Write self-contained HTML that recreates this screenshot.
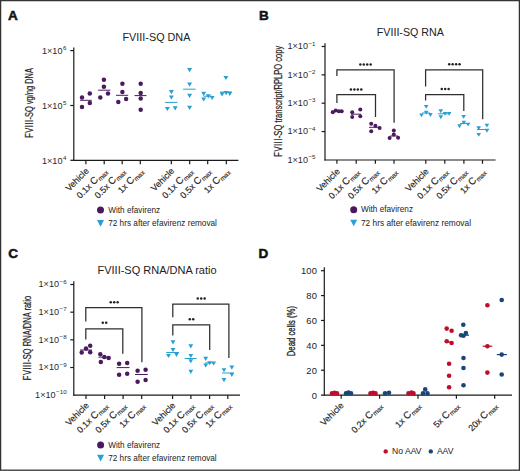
<!DOCTYPE html>
<html><head><meta charset="utf-8"><style>
html,body{margin:0;padding:0;background:#fff;}
#wrap{position:relative;width:520px;height:471px;overflow:hidden;background:#fff;}
svg{position:absolute;left:0;top:0;font-family:"Liberation Sans", sans-serif;}
</style></head><body><div id="wrap">
<svg width="520" height="471" viewBox="0 0 520 471">
<rect x="0" y="0" width="520" height="471" fill="#fff"/>
<text x="8.1" y="19.5" font-size="13.5" text-anchor="start" fill="#111" font-weight="bold" stroke="#111" stroke-width="0.5">A</text>
<text x="122.5" y="40.9" font-size="10.5" fill="#222" textLength="67.9" lengthAdjust="spacingAndGlyphs">FVIII-SQ DNA</text>
<text x="33.5" y="137.7" font-size="10.3" fill="#222" stroke="#222" stroke-width="0.2" textLength="69.6" lengthAdjust="spacingAndGlyphs" transform="rotate(-90 33.5 137.7)"><tspan letter-spacing="0.7">FVIII</tspan>-SQ vg/ng DNA</text>
<line x1="73.8" y1="47.5" x2="73.8" y2="160.9" stroke="#1a1a1a" stroke-width="1.2"/>
<line x1="73.2" y1="160.3" x2="238.4" y2="160.3" stroke="#1a1a1a" stroke-width="1.2"/>
<line x1="70.3" y1="50.6" x2="73.8" y2="50.6" stroke="#1a1a1a" stroke-width="1.2"/>
<text x="66.4" y="53.800000000000004" font-size="9.1" text-anchor="end" fill="#2a2a2a">1×10<tspan font-size="6.2" dx="0.5" dy="-3.7">6</tspan></text>
<line x1="70.3" y1="105.5" x2="73.8" y2="105.5" stroke="#1a1a1a" stroke-width="1.2"/>
<text x="66.4" y="108.7" font-size="9.1" text-anchor="end" fill="#2a2a2a">1×10<tspan font-size="6.2" dx="0.5" dy="-3.7">5</tspan></text>
<line x1="70.3" y1="160.3" x2="73.8" y2="160.3" stroke="#1a1a1a" stroke-width="1.2"/>
<text x="66.4" y="163.5" font-size="9.1" text-anchor="end" fill="#2a2a2a">1×10<tspan font-size="6.2" dx="0.5" dy="-3.7">4</tspan></text>
<line x1="85.9" y1="160.3" x2="85.9" y2="164.2" stroke="#1a1a1a" stroke-width="1.2"/>
<text x="89.4" y="171.5" font-size="8.9" text-anchor="end" fill="#222" stroke="#222" stroke-width="0.15" transform="rotate(-45 89.4 171.5)">Vehicle</text>
<line x1="104.2" y1="160.3" x2="104.2" y2="164.2" stroke="#1a1a1a" stroke-width="1.2"/>
<text x="107.7" y="171.5" font-size="8.9" text-anchor="end" fill="#222" stroke="#222" stroke-width="0.15" transform="rotate(-45 107.7 171.5)">0.1x <tspan font-size="9.8">C</tspan><tspan font-size="6.5" dx="0.3" dy="2.0">max</tspan></text>
<line x1="122.2" y1="160.3" x2="122.2" y2="164.2" stroke="#1a1a1a" stroke-width="1.2"/>
<text x="125.7" y="171.5" font-size="8.9" text-anchor="end" fill="#222" stroke="#222" stroke-width="0.15" transform="rotate(-45 125.7 171.5)">0.5x <tspan font-size="9.8">C</tspan><tspan font-size="6.5" dx="0.3" dy="2.0">max</tspan></text>
<line x1="140.3" y1="160.3" x2="140.3" y2="164.2" stroke="#1a1a1a" stroke-width="1.2"/>
<text x="143.8" y="171.5" font-size="8.9" text-anchor="end" fill="#222" stroke="#222" stroke-width="0.15" transform="rotate(-45 143.8 171.5)">1x <tspan font-size="9.8">C</tspan><tspan font-size="6.5" dx="0.3" dy="2.0">max</tspan></text>
<line x1="171.3" y1="160.3" x2="171.3" y2="164.2" stroke="#1a1a1a" stroke-width="1.2"/>
<text x="174.8" y="171.5" font-size="8.9" text-anchor="end" fill="#222" stroke="#222" stroke-width="0.15" transform="rotate(-45 174.8 171.5)">Vehicle</text>
<line x1="189.7" y1="160.3" x2="189.7" y2="164.2" stroke="#1a1a1a" stroke-width="1.2"/>
<text x="193.2" y="171.5" font-size="8.9" text-anchor="end" fill="#222" stroke="#222" stroke-width="0.15" transform="rotate(-45 193.2 171.5)">0.1x <tspan font-size="9.8">C</tspan><tspan font-size="6.5" dx="0.3" dy="2.0">max</tspan></text>
<line x1="207.7" y1="160.3" x2="207.7" y2="164.2" stroke="#1a1a1a" stroke-width="1.2"/>
<text x="211.2" y="171.5" font-size="8.9" text-anchor="end" fill="#222" stroke="#222" stroke-width="0.15" transform="rotate(-45 211.2 171.5)">0.5x <tspan font-size="9.8">C</tspan><tspan font-size="6.5" dx="0.3" dy="2.0">max</tspan></text>
<line x1="226.3" y1="160.3" x2="226.3" y2="164.2" stroke="#1a1a1a" stroke-width="1.2"/>
<text x="229.8" y="171.5" font-size="8.9" text-anchor="end" fill="#222" stroke="#222" stroke-width="0.15" transform="rotate(-45 229.8 171.5)">1x <tspan font-size="9.8">C</tspan><tspan font-size="6.5" dx="0.3" dy="2.0">max</tspan></text>
<circle cx="82.0" cy="97.6" r="2.25" fill="#4b1a5e"/>
<circle cx="89.8" cy="93.6" r="2.25" fill="#4b1a5e"/>
<circle cx="82.0" cy="107.0" r="2.25" fill="#4b1a5e"/>
<circle cx="89.8" cy="103.0" r="2.25" fill="#4b1a5e"/>
<line x1="80.1" y1="100.3" x2="91.8" y2="100.3" stroke="#4b1a5e" stroke-width="1.0"/>
<circle cx="103.9" cy="79.7" r="2.25" fill="#4b1a5e"/>
<circle cx="103.9" cy="86.8" r="2.25" fill="#4b1a5e"/>
<circle cx="100.3" cy="97.6" r="2.25" fill="#4b1a5e"/>
<circle cx="108.0" cy="93.6" r="2.25" fill="#4b1a5e"/>
<line x1="98.1" y1="90.2" x2="110.3" y2="90.2" stroke="#4b1a5e" stroke-width="1.0"/>
<circle cx="122.4" cy="83.7" r="2.25" fill="#4b1a5e"/>
<circle cx="122.4" cy="91.9" r="2.25" fill="#4b1a5e"/>
<circle cx="118.3" cy="102.0" r="2.25" fill="#4b1a5e"/>
<circle cx="126.1" cy="98.9" r="2.25" fill="#4b1a5e"/>
<line x1="116.0" y1="95.3" x2="128.2" y2="95.3" stroke="#4b1a5e" stroke-width="1.0"/>
<circle cx="140.7" cy="83.7" r="2.25" fill="#4b1a5e"/>
<circle cx="140.7" cy="93.1" r="2.25" fill="#4b1a5e"/>
<circle cx="140.7" cy="98.5" r="2.25" fill="#4b1a5e"/>
<circle cx="140.7" cy="109.7" r="2.25" fill="#4b1a5e"/>
<line x1="134.5" y1="95.6" x2="146.5" y2="95.6" stroke="#4b1a5e" stroke-width="1.0"/>
<line x1="165.1" y1="102.4" x2="177.5" y2="102.4" stroke="#2a9fd2" stroke-width="1.0"/>
<path d="M168.90,90.00L173.90,90.00L171.40,94.20Z" fill="#2a9fd2"/>
<path d="M168.90,95.40L173.90,95.40L171.40,99.60Z" fill="#2a9fd2"/>
<path d="M164.90,106.90L169.90,106.90L167.40,111.10Z" fill="#2a9fd2"/>
<path d="M172.70,106.20L177.70,106.20L175.20,110.40Z" fill="#2a9fd2"/>
<line x1="183.1" y1="89.2" x2="195.7" y2="89.2" stroke="#2a9fd2" stroke-width="1.0"/>
<path d="M187.10,68.10L192.10,68.10L189.60,72.30Z" fill="#2a9fd2"/>
<path d="M187.10,82.60L192.10,82.60L189.60,86.80Z" fill="#2a9fd2"/>
<path d="M187.10,93.70L192.10,93.70L189.60,97.90Z" fill="#2a9fd2"/>
<path d="M187.10,105.80L192.10,105.80L189.60,110.00Z" fill="#2a9fd2"/>
<line x1="203.5" y1="96.2" x2="212.5" y2="96.2" stroke="#2a9fd2" stroke-width="1.0"/>
<path d="M201.20,91.70L206.20,91.70L203.70,95.90Z" fill="#2a9fd2"/>
<path d="M201.20,97.40L206.20,97.40L203.70,101.60Z" fill="#2a9fd2"/>
<path d="M205.80,94.30L210.80,94.30L208.30,98.50Z" fill="#2a9fd2"/>
<path d="M209.60,95.90L214.60,95.90L212.10,100.10Z" fill="#2a9fd2"/>
<line x1="220.0" y1="92.1" x2="232.0" y2="92.1" stroke="#2a9fd2" stroke-width="1.0"/>
<path d="M223.40,75.90L228.40,75.90L225.90,80.10Z" fill="#2a9fd2"/>
<path d="M219.60,92.20L224.60,92.20L222.10,96.40Z" fill="#2a9fd2"/>
<path d="M223.60,91.10L228.60,91.10L226.10,95.30Z" fill="#2a9fd2"/>
<path d="M227.30,91.70L232.30,91.70L229.80,95.90Z" fill="#2a9fd2"/>
<circle cx="100.5" cy="210.1" r="3.5" fill="#4b1a5e"/>
<path d="M97.00,220.10L104.00,220.10L100.50,226.70Z" fill="#2a9fd2"/>
<text x="108.2" y="212.9" font-size="8.6" fill="#222" textLength="52" lengthAdjust="spacingAndGlyphs">With efavirenz</text>
<text x="108.2" y="226.0" font-size="8.6" fill="#222" textLength="108.7" lengthAdjust="spacingAndGlyphs">72 hrs after efavirenz removal</text>
<text x="259" y="19.6" font-size="13.5" text-anchor="start" fill="#111" font-weight="bold" stroke="#111" stroke-width="0.5">B</text>
<text x="376.8" y="36.4" font-size="10.5" fill="#222" textLength="67.1" lengthAdjust="spacingAndGlyphs">FVIII-SQ RNA</text>
<text x="281.6" y="156.7" font-size="10.3" fill="#222" stroke="#222" stroke-width="0.2" textLength="111.0" lengthAdjust="spacingAndGlyphs" transform="rotate(-90 281.6 156.7)"><tspan letter-spacing="0.7">FVIII</tspan>-SQ transcript/RPLPO copy</text>
<line x1="325.0" y1="43.2" x2="325.0" y2="160.6" stroke="#1a1a1a" stroke-width="1.2"/>
<line x1="324.4" y1="160.0" x2="495.6" y2="160.0" stroke="#1a1a1a" stroke-width="1.2"/>
<line x1="321.6" y1="46.5" x2="325.0" y2="46.5" stroke="#1a1a1a" stroke-width="1.2"/>
<text x="315.5" y="49.3" font-size="9.1" text-anchor="end" fill="#2a2a2a">1×10<tspan font-size="6.2" dx="0.5" dy="-3.7">−1</tspan></text>
<line x1="321.6" y1="74.85" x2="325.0" y2="74.85" stroke="#1a1a1a" stroke-width="1.2"/>
<text x="315.5" y="77.64999999999999" font-size="9.1" text-anchor="end" fill="#2a2a2a">1×10<tspan font-size="6.2" dx="0.5" dy="-3.7">−2</tspan></text>
<line x1="321.6" y1="103.2" x2="325.0" y2="103.2" stroke="#1a1a1a" stroke-width="1.2"/>
<text x="315.5" y="106.0" font-size="9.1" text-anchor="end" fill="#2a2a2a">1×10<tspan font-size="6.2" dx="0.5" dy="-3.7">−3</tspan></text>
<line x1="321.6" y1="131.55" x2="325.0" y2="131.55" stroke="#1a1a1a" stroke-width="1.2"/>
<text x="315.5" y="134.35000000000002" font-size="9.1" text-anchor="end" fill="#2a2a2a">1×10<tspan font-size="6.2" dx="0.5" dy="-3.7">−4</tspan></text>
<text x="315.5" y="162.70000000000002" font-size="9.1" text-anchor="end" fill="#2a2a2a">1×10<tspan font-size="6.2" dx="0.5" dy="-3.7">−5</tspan></text>
<line x1="336.9" y1="160.0" x2="336.9" y2="163.8" stroke="#1a1a1a" stroke-width="1.2"/>
<text x="340.4" y="172.0" font-size="8.9" text-anchor="end" fill="#222" stroke="#222" stroke-width="0.15" transform="rotate(-45 340.4 172.0)">Vehicle</text>
<line x1="356.2" y1="160.0" x2="356.2" y2="163.8" stroke="#1a1a1a" stroke-width="1.2"/>
<text x="359.7" y="172.0" font-size="8.9" text-anchor="end" fill="#222" stroke="#222" stroke-width="0.15" transform="rotate(-45 359.7 172.0)">0.1x <tspan font-size="9.8">C</tspan><tspan font-size="6.5" dx="0.3" dy="2.0">max</tspan></text>
<line x1="375.4" y1="160.0" x2="375.4" y2="163.8" stroke="#1a1a1a" stroke-width="1.2"/>
<text x="378.9" y="172.0" font-size="8.9" text-anchor="end" fill="#222" stroke="#222" stroke-width="0.15" transform="rotate(-45 378.9 172.0)">0.5x <tspan font-size="9.8">C</tspan><tspan font-size="6.5" dx="0.3" dy="2.0">max</tspan></text>
<line x1="394.0" y1="160.0" x2="394.0" y2="163.8" stroke="#1a1a1a" stroke-width="1.2"/>
<text x="397.5" y="172.0" font-size="8.9" text-anchor="end" fill="#222" stroke="#222" stroke-width="0.15" transform="rotate(-45 397.5 172.0)">1x <tspan font-size="9.8">C</tspan><tspan font-size="6.5" dx="0.3" dy="2.0">max</tspan></text>
<line x1="425.8" y1="160.0" x2="425.8" y2="163.8" stroke="#1a1a1a" stroke-width="1.2"/>
<text x="429.3" y="172.0" font-size="8.9" text-anchor="end" fill="#222" stroke="#222" stroke-width="0.15" transform="rotate(-45 429.3 172.0)">Vehicle</text>
<line x1="444.8" y1="160.0" x2="444.8" y2="163.8" stroke="#1a1a1a" stroke-width="1.2"/>
<text x="448.3" y="172.0" font-size="8.9" text-anchor="end" fill="#222" stroke="#222" stroke-width="0.15" transform="rotate(-45 448.3 172.0)">0.1x <tspan font-size="9.8">C</tspan><tspan font-size="6.5" dx="0.3" dy="2.0">max</tspan></text>
<line x1="463.9" y1="160.0" x2="463.9" y2="163.8" stroke="#1a1a1a" stroke-width="1.2"/>
<text x="467.4" y="172.0" font-size="8.9" text-anchor="end" fill="#222" stroke="#222" stroke-width="0.15" transform="rotate(-45 467.4 172.0)">0.5x <tspan font-size="9.8">C</tspan><tspan font-size="6.5" dx="0.3" dy="2.0">max</tspan></text>
<line x1="482.5" y1="160.0" x2="482.5" y2="163.8" stroke="#1a1a1a" stroke-width="1.2"/>
<text x="486.0" y="172.0" font-size="8.9" text-anchor="end" fill="#222" stroke="#222" stroke-width="0.15" transform="rotate(-45 486.0 172.0)">1x <tspan font-size="9.8">C</tspan><tspan font-size="6.5" dx="0.3" dy="2.0">max</tspan></text>
<path d="M336.9,76.0V69.8H394.1V122.7" fill="none" stroke="#2e2e2e" stroke-width="1.25"/>
<circle cx="360.32" cy="64.5" r="1.25" fill="#222"/>
<circle cx="363.77" cy="64.5" r="1.25" fill="#222"/>
<circle cx="367.22" cy="64.5" r="1.25" fill="#222"/>
<circle cx="370.68" cy="64.5" r="1.25" fill="#222"/>
<path d="M336.9,102.9V94.5H375.5V117.0" fill="none" stroke="#2e2e2e" stroke-width="1.25"/>
<circle cx="350.93" cy="89.4" r="1.25" fill="#222"/>
<circle cx="354.38" cy="89.4" r="1.25" fill="#222"/>
<circle cx="357.82" cy="89.4" r="1.25" fill="#222"/>
<circle cx="361.28" cy="89.4" r="1.25" fill="#222"/>
<path d="M425.6,86.5V69.8H482.7V119.2" fill="none" stroke="#2e2e2e" stroke-width="1.25"/>
<circle cx="449.22" cy="64.2" r="1.25" fill="#222"/>
<circle cx="452.67" cy="64.2" r="1.25" fill="#222"/>
<circle cx="456.12" cy="64.2" r="1.25" fill="#222"/>
<circle cx="459.57" cy="64.2" r="1.25" fill="#222"/>
<path d="M425.6,100.5V94.5H463.8V111.0" fill="none" stroke="#2e2e2e" stroke-width="1.25"/>
<circle cx="441.75" cy="89.0" r="1.25" fill="#222"/>
<circle cx="445.20" cy="89.0" r="1.25" fill="#222"/>
<circle cx="448.65" cy="89.0" r="1.25" fill="#222"/>
<line x1="331" y1="111.2" x2="343" y2="111.2" stroke="#4b1a5e" stroke-width="1.0"/>
<circle cx="332.8" cy="112.3" r="2.0" fill="#4b1a5e"/>
<circle cx="335.7" cy="110.4" r="2.0" fill="#4b1a5e"/>
<circle cx="338.8" cy="111.2" r="2.0" fill="#4b1a5e"/>
<circle cx="341.7" cy="111.2" r="2.0" fill="#4b1a5e"/>
<line x1="351" y1="114.2" x2="361" y2="114.2" stroke="#4b1a5e" stroke-width="1.0"/>
<circle cx="352.2" cy="112.3" r="2.0" fill="#4b1a5e"/>
<circle cx="352.2" cy="117.1" r="2.0" fill="#4b1a5e"/>
<circle cx="360.3" cy="109.6" r="2.0" fill="#4b1a5e"/>
<circle cx="360.3" cy="116.2" r="2.0" fill="#4b1a5e"/>
<line x1="369" y1="127.3" x2="381" y2="127.3" stroke="#4b1a5e" stroke-width="1.0"/>
<circle cx="371.2" cy="123.7" r="2.0" fill="#4b1a5e"/>
<circle cx="375.4" cy="125.8" r="2.0" fill="#4b1a5e"/>
<circle cx="379.6" cy="128.1" r="2.0" fill="#4b1a5e"/>
<circle cx="371.2" cy="131.2" r="2.0" fill="#4b1a5e"/>
<line x1="390" y1="136.0" x2="398" y2="136.0" stroke="#4b1a5e" stroke-width="1.0"/>
<circle cx="393.8" cy="130.4" r="2.0" fill="#4b1a5e"/>
<circle cx="393.8" cy="134.6" r="2.0" fill="#4b1a5e"/>
<circle cx="389.6" cy="138.1" r="2.0" fill="#4b1a5e"/>
<circle cx="398.1" cy="137.7" r="2.0" fill="#4b1a5e"/>
<line x1="422" y1="113.0" x2="430" y2="113.0" stroke="#2a9fd2" stroke-width="1.0"/>
<path d="M423.90,104.95L428.50,104.95L426.20,108.85Z" fill="#2a9fd2"/>
<path d="M423.90,110.75L428.50,110.75L426.20,114.65Z" fill="#2a9fd2"/>
<path d="M419.20,113.45L423.80,113.45L421.50,117.35Z" fill="#2a9fd2"/>
<path d="M428.10,113.05L432.70,113.05L430.40,116.95Z" fill="#2a9fd2"/>
<line x1="438" y1="113.8" x2="449" y2="113.8" stroke="#2a9fd2" stroke-width="1.0"/>
<path d="M438.50,109.25L443.10,109.25L440.80,113.15Z" fill="#2a9fd2"/>
<path d="M438.50,115.35L443.10,115.35L440.80,119.25Z" fill="#2a9fd2"/>
<path d="M442.70,111.95L447.30,111.95L445.00,115.85Z" fill="#2a9fd2"/>
<path d="M446.90,111.95L451.50,111.95L449.20,115.85Z" fill="#2a9fd2"/>
<line x1="460" y1="123.5" x2="468" y2="123.5" stroke="#2a9fd2" stroke-width="1.0"/>
<path d="M461.30,114.95L465.90,114.95L463.60,118.85Z" fill="#2a9fd2"/>
<path d="M461.50,120.75L466.10,120.75L463.80,124.65Z" fill="#2a9fd2"/>
<path d="M457.30,124.25L461.90,124.25L459.60,128.15Z" fill="#2a9fd2"/>
<path d="M465.80,122.65L470.40,122.65L468.10,126.55Z" fill="#2a9fd2"/>
<line x1="477" y1="129.5" x2="489" y2="129.5" stroke="#2a9fd2" stroke-width="1.0"/>
<path d="M476.40,126.25L481.00,126.25L478.70,130.15Z" fill="#2a9fd2"/>
<path d="M476.40,132.95L481.00,132.95L478.70,136.85Z" fill="#2a9fd2"/>
<path d="M484.60,123.65L489.20,123.65L486.90,127.55Z" fill="#2a9fd2"/>
<path d="M484.60,128.85L489.20,128.85L486.90,132.75Z" fill="#2a9fd2"/>
<circle cx="353.7" cy="209.7" r="3.5" fill="#4b1a5e"/>
<path d="M350.20,219.70L357.20,219.70L353.70,226.30Z" fill="#2a9fd2"/>
<text x="361.0" y="212.1" font-size="8.6" fill="#222" textLength="52" lengthAdjust="spacingAndGlyphs">With efavirenz</text>
<text x="361.0" y="225.8" font-size="8.6" fill="#222" textLength="110.0" lengthAdjust="spacingAndGlyphs">72 hrs after efavirenz removal</text>
<text x="8.2" y="258.2" font-size="13.5" text-anchor="start" fill="#111" font-weight="bold" stroke="#111" stroke-width="0.5">C</text>
<text x="97.5" y="274.2" font-size="10.5" fill="#222" textLength="119.1" lengthAdjust="spacingAndGlyphs">FVIII-SQ RNA/DNA ratio</text>
<text x="30.9" y="380.2" font-size="10.3" fill="#222" stroke="#222" stroke-width="0.2" textLength="84.3" lengthAdjust="spacingAndGlyphs" transform="rotate(-90 30.9 380.2)"><tspan letter-spacing="0.7">FVIII</tspan>-SQ RNA/DNA ratio</text>
<line x1="73.8" y1="281.3" x2="73.8" y2="395.7" stroke="#1a1a1a" stroke-width="1.2"/>
<line x1="73.2" y1="395.1" x2="240.0" y2="395.1" stroke="#1a1a1a" stroke-width="1.2"/>
<line x1="70.3" y1="284.5" x2="73.8" y2="284.5" stroke="#1a1a1a" stroke-width="1.2"/>
<text x="66.6" y="287.4" font-size="9.1" text-anchor="end" fill="#2a2a2a">1×10<tspan font-size="6.2" dx="0.5" dy="-3.7">−6</tspan></text>
<line x1="70.3" y1="312.17" x2="73.8" y2="312.17" stroke="#1a1a1a" stroke-width="1.2"/>
<text x="66.6" y="315.07" font-size="9.1" text-anchor="end" fill="#2a2a2a">1×10<tspan font-size="6.2" dx="0.5" dy="-3.7">−7</tspan></text>
<line x1="70.3" y1="339.84000000000003" x2="73.8" y2="339.84000000000003" stroke="#1a1a1a" stroke-width="1.2"/>
<text x="66.6" y="342.74" font-size="9.1" text-anchor="end" fill="#2a2a2a">1×10<tspan font-size="6.2" dx="0.5" dy="-3.7">−8</tspan></text>
<line x1="70.3" y1="367.51" x2="73.8" y2="367.51" stroke="#1a1a1a" stroke-width="1.2"/>
<text x="66.6" y="370.40999999999997" font-size="9.1" text-anchor="end" fill="#2a2a2a">1×10<tspan font-size="6.2" dx="0.5" dy="-3.7">−9</tspan></text>
<text x="66.6" y="398.08" font-size="9.1" text-anchor="end" fill="#2a2a2a">1×10<tspan font-size="6.2" dx="0.5" dy="-3.7">−10</tspan></text>
<line x1="86.0" y1="395.1" x2="86.0" y2="398.9" stroke="#1a1a1a" stroke-width="1.2"/>
<text x="89.5" y="406.0" font-size="8.9" text-anchor="end" fill="#222" stroke="#222" stroke-width="0.15" transform="rotate(-45 89.5 406.0)">Vehicle</text>
<line x1="104.6" y1="395.1" x2="104.6" y2="398.9" stroke="#1a1a1a" stroke-width="1.2"/>
<text x="108.1" y="406.0" font-size="8.9" text-anchor="end" fill="#222" stroke="#222" stroke-width="0.15" transform="rotate(-45 108.1 406.0)">0.1x <tspan font-size="9.8">C</tspan><tspan font-size="6.5" dx="0.3" dy="2.0">max</tspan></text>
<line x1="123.1" y1="395.1" x2="123.1" y2="398.9" stroke="#1a1a1a" stroke-width="1.2"/>
<text x="126.6" y="406.0" font-size="8.9" text-anchor="end" fill="#222" stroke="#222" stroke-width="0.15" transform="rotate(-45 126.6 406.0)">0.5x <tspan font-size="9.8">C</tspan><tspan font-size="6.5" dx="0.3" dy="2.0">max</tspan></text>
<line x1="141.7" y1="395.1" x2="141.7" y2="398.9" stroke="#1a1a1a" stroke-width="1.2"/>
<text x="145.2" y="406.0" font-size="8.9" text-anchor="end" fill="#222" stroke="#222" stroke-width="0.15" transform="rotate(-45 145.2 406.0)">1x <tspan font-size="9.8">C</tspan><tspan font-size="6.5" dx="0.3" dy="2.0">max</tspan></text>
<line x1="172.6" y1="395.1" x2="172.6" y2="398.9" stroke="#1a1a1a" stroke-width="1.2"/>
<text x="176.1" y="406.0" font-size="8.9" text-anchor="end" fill="#222" stroke="#222" stroke-width="0.15" transform="rotate(-45 176.1 406.0)">Vehicle</text>
<line x1="190.9" y1="395.1" x2="190.9" y2="398.9" stroke="#1a1a1a" stroke-width="1.2"/>
<text x="194.4" y="406.0" font-size="8.9" text-anchor="end" fill="#222" stroke="#222" stroke-width="0.15" transform="rotate(-45 194.4 406.0)">0.1x <tspan font-size="9.8">C</tspan><tspan font-size="6.5" dx="0.3" dy="2.0">max</tspan></text>
<line x1="209.6" y1="395.1" x2="209.6" y2="398.9" stroke="#1a1a1a" stroke-width="1.2"/>
<text x="213.1" y="406.0" font-size="8.9" text-anchor="end" fill="#222" stroke="#222" stroke-width="0.15" transform="rotate(-45 213.1 406.0)">0.5x <tspan font-size="9.8">C</tspan><tspan font-size="6.5" dx="0.3" dy="2.0">max</tspan></text>
<line x1="227.8" y1="395.1" x2="227.8" y2="398.9" stroke="#1a1a1a" stroke-width="1.2"/>
<text x="231.3" y="406.0" font-size="8.9" text-anchor="end" fill="#222" stroke="#222" stroke-width="0.15" transform="rotate(-45 231.3 406.0)">1x <tspan font-size="9.8">C</tspan><tspan font-size="6.5" dx="0.3" dy="2.0">max</tspan></text>
<path d="M85.8,321.5V307.5H141.9V362.3" fill="none" stroke="#2e2e2e" stroke-width="1.25"/>
<circle cx="110.75" cy="302.3" r="1.25" fill="#222"/>
<circle cx="114.20" cy="302.3" r="1.25" fill="#222"/>
<circle cx="117.65" cy="302.3" r="1.25" fill="#222"/>
<path d="M85.8,339.5V328.8H122.8V353.8" fill="none" stroke="#2e2e2e" stroke-width="1.25"/>
<circle cx="102.78" cy="322.8" r="1.25" fill="#222"/>
<circle cx="106.23" cy="322.8" r="1.25" fill="#222"/>
<path d="M172.8,317.3V304.1H228.9V358.0" fill="none" stroke="#2e2e2e" stroke-width="1.25"/>
<circle cx="197.75" cy="298.4" r="1.25" fill="#222"/>
<circle cx="201.20" cy="298.4" r="1.25" fill="#222"/>
<circle cx="204.65" cy="298.4" r="1.25" fill="#222"/>
<path d="M172.8,335.5V324.8H209.7V350.1" fill="none" stroke="#2e2e2e" stroke-width="1.25"/>
<circle cx="189.78" cy="319.2" r="1.25" fill="#222"/>
<circle cx="193.22" cy="319.2" r="1.25" fill="#222"/>
<line x1="80" y1="350.0" x2="92" y2="350.0" stroke="#4b1a5e" stroke-width="1.0"/>
<circle cx="81.7" cy="352.5" r="2.25" fill="#4b1a5e"/>
<circle cx="86.0" cy="348.5" r="2.25" fill="#4b1a5e"/>
<circle cx="90.2" cy="345.8" r="2.25" fill="#4b1a5e"/>
<circle cx="90.2" cy="352.2" r="2.25" fill="#4b1a5e"/>
<line x1="98.5" y1="357.2" x2="110.5" y2="357.2" stroke="#4b1a5e" stroke-width="1.0"/>
<circle cx="100.3" cy="354.2" r="2.25" fill="#4b1a5e"/>
<circle cx="104.3" cy="356.9" r="2.25" fill="#4b1a5e"/>
<circle cx="108.6" cy="358.1" r="2.25" fill="#4b1a5e"/>
<circle cx="100.8" cy="361.9" r="2.25" fill="#4b1a5e"/>
<line x1="116.7" y1="367.6" x2="129.5" y2="367.6" stroke="#4b1a5e" stroke-width="1.0"/>
<circle cx="119.1" cy="363.7" r="2.25" fill="#4b1a5e"/>
<circle cx="127.2" cy="363.0" r="2.25" fill="#4b1a5e"/>
<circle cx="119.1" cy="374.7" r="2.25" fill="#4b1a5e"/>
<circle cx="127.2" cy="373.8" r="2.25" fill="#4b1a5e"/>
<line x1="135.0" y1="374.5" x2="147.8" y2="374.5" stroke="#4b1a5e" stroke-width="1.0"/>
<circle cx="137.6" cy="370.8" r="2.25" fill="#4b1a5e"/>
<circle cx="145.6" cy="369.7" r="2.25" fill="#4b1a5e"/>
<circle cx="137.6" cy="381.8" r="2.25" fill="#4b1a5e"/>
<circle cx="145.6" cy="379.9" r="2.25" fill="#4b1a5e"/>
<line x1="166.2" y1="352.5" x2="178.9" y2="352.5" stroke="#2a9fd2" stroke-width="1.0"/>
<path d="M170.60,340.35L175.40,340.35L173.00,344.45Z" fill="#2a9fd2"/>
<path d="M170.60,348.05L175.40,348.05L173.00,352.15Z" fill="#2a9fd2"/>
<path d="M166.10,353.95L170.90,353.95L168.50,358.05Z" fill="#2a9fd2"/>
<path d="M174.10,352.85L178.90,352.85L176.50,356.95Z" fill="#2a9fd2"/>
<line x1="184.6" y1="358.5" x2="196.6" y2="358.5" stroke="#2a9fd2" stroke-width="1.0"/>
<path d="M188.40,344.35L193.20,344.35L190.80,348.45Z" fill="#2a9fd2"/>
<path d="M188.40,353.95L193.20,353.95L190.80,358.05Z" fill="#2a9fd2"/>
<path d="M188.40,359.25L193.20,359.25L190.80,363.35Z" fill="#2a9fd2"/>
<path d="M188.40,369.85L193.20,369.85L190.80,373.95Z" fill="#2a9fd2"/>
<line x1="205" y1="362.9" x2="213" y2="362.9" stroke="#2a9fd2" stroke-width="1.0"/>
<path d="M203.30,356.85L208.10,356.85L205.70,360.95Z" fill="#2a9fd2"/>
<path d="M203.30,363.45L208.10,363.45L205.70,367.55Z" fill="#2a9fd2"/>
<path d="M207.20,361.15L212.00,361.15L209.60,365.25Z" fill="#2a9fd2"/>
<path d="M211.30,361.45L216.10,361.45L213.70,365.55Z" fill="#2a9fd2"/>
<line x1="222" y1="373.0" x2="234" y2="373.0" stroke="#2a9fd2" stroke-width="1.0"/>
<path d="M229.40,365.55L234.20,365.55L231.80,369.65Z" fill="#2a9fd2"/>
<path d="M221.60,368.15L226.40,368.15L224.00,372.25Z" fill="#2a9fd2"/>
<path d="M229.40,372.85L234.20,372.85L231.80,376.95Z" fill="#2a9fd2"/>
<path d="M221.60,378.05L226.40,378.05L224.00,382.15Z" fill="#2a9fd2"/>
<circle cx="100.6" cy="445.0" r="3.5" fill="#4b1a5e"/>
<path d="M97.10,454.80L104.10,454.80L100.60,461.40Z" fill="#2a9fd2"/>
<text x="108.2" y="447.6" font-size="8.6" fill="#222" textLength="52" lengthAdjust="spacingAndGlyphs">With efavirenz</text>
<text x="108.2" y="461.3" font-size="8.6" fill="#222" textLength="108.5" lengthAdjust="spacingAndGlyphs">72 hrs after efavirenz removal</text>
<text x="258.5" y="257.8" font-size="13.5" text-anchor="start" fill="#111" font-weight="bold" stroke="#111" stroke-width="0.5">D</text>
<text x="295.0" y="356.2" font-size="10.0" fill="#222" stroke="#222" stroke-width="0.3" textLength="50.2" lengthAdjust="spacingAndGlyphs" transform="rotate(-90 295.0 356.2)">Dead cells (%)</text>
<line x1="324.3" y1="267.3" x2="324.3" y2="395.7" stroke="#1a1a1a" stroke-width="1.2"/>
<line x1="321.0" y1="395.1" x2="512.0" y2="395.1" stroke="#1a1a1a" stroke-width="1.2"/>
<text x="317.0" y="398.5" font-size="9.4" text-anchor="end" fill="#222" font-weight="normal" letter-spacing="0.15">0</text>
<line x1="321.0" y1="370.22" x2="324.3" y2="370.22" stroke="#1a1a1a" stroke-width="1.2"/>
<text x="317.0" y="373.62" font-size="9.4" text-anchor="end" fill="#222" font-weight="normal" letter-spacing="0.15">20</text>
<line x1="321.0" y1="345.34000000000003" x2="324.3" y2="345.34000000000003" stroke="#1a1a1a" stroke-width="1.2"/>
<text x="317.0" y="348.74" font-size="9.4" text-anchor="end" fill="#222" font-weight="normal" letter-spacing="0.15">40</text>
<line x1="321.0" y1="320.46000000000004" x2="324.3" y2="320.46000000000004" stroke="#1a1a1a" stroke-width="1.2"/>
<text x="317.0" y="323.86" font-size="9.4" text-anchor="end" fill="#222" font-weight="normal" letter-spacing="0.15">60</text>
<line x1="321.0" y1="295.58000000000004" x2="324.3" y2="295.58000000000004" stroke="#1a1a1a" stroke-width="1.2"/>
<text x="317.0" y="298.98" font-size="9.4" text-anchor="end" fill="#222" font-weight="normal" letter-spacing="0.15">80</text>
<line x1="321.0" y1="270.70000000000005" x2="324.3" y2="270.70000000000005" stroke="#1a1a1a" stroke-width="1.2"/>
<text x="317.0" y="274.1" font-size="9.4" text-anchor="end" fill="#222" font-weight="normal" letter-spacing="0.15">100</text>
<line x1="341.2" y1="395.1" x2="341.2" y2="398.7" stroke="#1a1a1a" stroke-width="1.2"/>
<text x="344.2" y="406.0" font-size="8.9" text-anchor="end" fill="#222" stroke="#222" stroke-width="0.15" transform="rotate(-45 344.2 406.0)">Vehicle</text>
<line x1="379.6" y1="395.1" x2="379.6" y2="398.7" stroke="#1a1a1a" stroke-width="1.2"/>
<text x="382.6" y="406.0" font-size="8.9" text-anchor="end" fill="#222" stroke="#222" stroke-width="0.15" transform="rotate(-45 382.6 406.0)">0.2x <tspan font-size="9.8">C</tspan><tspan font-size="6.5" dx="0.3" dy="2.0">max</tspan></text>
<line x1="418.0" y1="395.1" x2="418.0" y2="398.7" stroke="#1a1a1a" stroke-width="1.2"/>
<text x="421.0" y="406.0" font-size="8.9" text-anchor="end" fill="#222" stroke="#222" stroke-width="0.15" transform="rotate(-45 421.0 406.0)">1x <tspan font-size="9.8">C</tspan><tspan font-size="6.5" dx="0.3" dy="2.0">max</tspan></text>
<line x1="456.4" y1="395.1" x2="456.4" y2="398.7" stroke="#1a1a1a" stroke-width="1.2"/>
<text x="459.4" y="406.0" font-size="8.9" text-anchor="end" fill="#222" stroke="#222" stroke-width="0.15" transform="rotate(-45 459.4 406.0)">5x <tspan font-size="9.8">C</tspan><tspan font-size="6.5" dx="0.3" dy="2.0">max</tspan></text>
<line x1="494.7" y1="395.1" x2="494.7" y2="398.7" stroke="#1a1a1a" stroke-width="1.2"/>
<text x="497.7" y="406.0" font-size="8.9" text-anchor="end" fill="#222" stroke="#222" stroke-width="0.15" transform="rotate(-45 497.7 406.0)">20x <tspan font-size="9.8">C</tspan><tspan font-size="6.5" dx="0.3" dy="2.0">max</tspan></text>
<circle cx="332.0" cy="393.4" r="2.3" fill="#bf0d2c"/>
<circle cx="334.5" cy="392.8" r="2.3" fill="#bf0d2c"/>
<circle cx="337.0" cy="393.4" r="2.3" fill="#bf0d2c"/>
<circle cx="370.5" cy="393.4" r="2.3" fill="#bf0d2c"/>
<circle cx="373.0" cy="392.8" r="2.3" fill="#bf0d2c"/>
<circle cx="375.5" cy="393.4" r="2.3" fill="#bf0d2c"/>
<circle cx="408.5" cy="393.4" r="2.3" fill="#bf0d2c"/>
<circle cx="411.5" cy="392.6" r="2.3" fill="#bf0d2c"/>
<circle cx="413.5" cy="393.4" r="2.3" fill="#bf0d2c"/>
<circle cx="446.7" cy="328.6" r="2.3" fill="#bf0d2c"/>
<circle cx="451.6" cy="330.7" r="2.3" fill="#bf0d2c"/>
<circle cx="446.7" cy="341.3" r="2.3" fill="#bf0d2c"/>
<circle cx="451.6" cy="343.0" r="2.3" fill="#bf0d2c"/>
<circle cx="449.1" cy="363.8" r="2.3" fill="#bf0d2c"/>
<circle cx="449.1" cy="375.7" r="2.3" fill="#bf0d2c"/>
<circle cx="449.1" cy="387.2" r="2.3" fill="#bf0d2c"/>
<line x1="445" y1="342.2" x2="453" y2="342.2" stroke="#bf0d2c" stroke-width="1.2"/>
<circle cx="487.4" cy="305.2" r="2.3" fill="#bf0d2c"/>
<circle cx="487.4" cy="346.2" r="2.3" fill="#bf0d2c"/>
<circle cx="487.4" cy="372.6" r="2.3" fill="#bf0d2c"/>
<line x1="482.7" y1="346.2" x2="492.3" y2="346.2" stroke="#bf0d2c" stroke-width="1.2"/>
<circle cx="346.0" cy="393.4" r="2.3" fill="#1b4578"/>
<circle cx="348.5" cy="392.6" r="2.3" fill="#1b4578"/>
<circle cx="351.0" cy="393.4" r="2.3" fill="#1b4578"/>
<circle cx="385.0" cy="393.4" r="2.3" fill="#1b4578"/>
<circle cx="389.0" cy="392.8" r="2.3" fill="#1b4578"/>
<circle cx="423.0" cy="393.4" r="2.3" fill="#1b4578"/>
<circle cx="425.2" cy="389.4" r="2.3" fill="#1b4578"/>
<circle cx="427.5" cy="393.4" r="2.3" fill="#1b4578"/>
<circle cx="463.3" cy="324.8" r="2.3" fill="#1b4578"/>
<circle cx="465.9" cy="333.0" r="2.3" fill="#1b4578"/>
<circle cx="461.1" cy="335.2" r="2.3" fill="#1b4578"/>
<circle cx="463.5" cy="335.8" r="2.3" fill="#1b4578"/>
<circle cx="463.5" cy="358.0" r="2.3" fill="#1b4578"/>
<circle cx="463.5" cy="368.0" r="2.3" fill="#1b4578"/>
<circle cx="463.5" cy="385.2" r="2.3" fill="#1b4578"/>
<line x1="459" y1="335.2" x2="469" y2="335.2" stroke="#1b4578" stroke-width="1.2"/>
<circle cx="501.7" cy="300.0" r="2.3" fill="#1b4578"/>
<circle cx="501.7" cy="354.6" r="2.3" fill="#1b4578"/>
<circle cx="501.7" cy="374.5" r="2.3" fill="#1b4578"/>
<line x1="496.8" y1="354.6" x2="506.9" y2="354.6" stroke="#1b4578" stroke-width="1.2"/>
<circle cx="385.7" cy="451.4" r="2.2" fill="#bf0d2c"/>
<text x="392.0" y="454.3" font-size="8.6" text-anchor="start" fill="#222" font-weight="normal" >No AAV</text>
<circle cx="430.8" cy="451.4" r="2.2" fill="#1b4578"/>
<text x="436.9" y="454.3" font-size="8.6" text-anchor="start" fill="#222" font-weight="normal" >AAV</text>
<rect x="0.6" y="0.6" width="518.8" height="469.6" fill="none" stroke="#333" stroke-width="1.3"/>
</svg></div></body></html>
